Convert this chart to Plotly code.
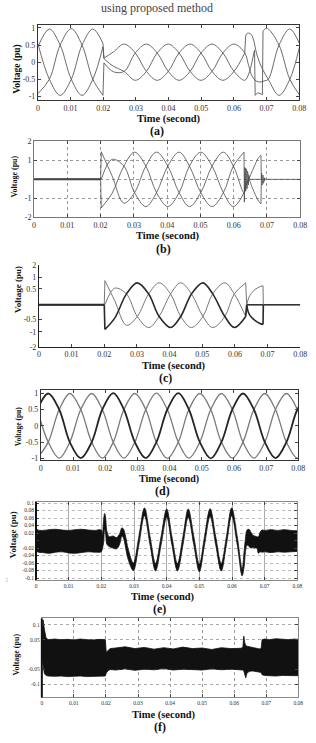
import plotly.graph_objects as go

W, H = 316, 743
SERIF = "Liberation Serif"

# ---------------- data ----------------
x_ticks = [0, 0.01, 0.02, 0.03, 0.04, 0.05, 0.06, 0.07, 0.08]
x_tick_text = ["0", "0.01", "0.02", "0.03", "0.04", "0.05", "0.06", "0.07", "0.08"]

# (a) three-phase voltage using proposed method
a_t1 = [0.0000, 0.0035, 0.0068, 0.0102, 0.0135, 0.0168, 0.0199]
a_A1 = [0.45, 0.97, 0.50, -0.50, -0.97, -0.50, 0.45]
a_B1 = [-0.92, -0.50, 0.50, 0.98, 0.50, -0.50, -0.97]
a_C1 = [0.54, -0.50, -0.97, -0.50, 0.50, 0.97, 0.55]
a_t2 = [0.0202, 0.0231, 0.0264, 0.0298, 0.0332, 0.0365, 0.0399, 0.0432, 0.0466, 0.0499, 0.0533, 0.0566, 0.0600, 0.0633]
a_A2 = [0.12, 0.30, 0.53, 0.27, -0.27, -0.53, -0.27, 0.27, 0.53, 0.27, -0.27, -0.53, -0.27, 0.27]
a_B2 = [-0.02, -0.28, -0.27, 0.27, 0.53, 0.27, -0.27, -0.53, -0.27, 0.27, 0.53, 0.27, -0.27, -0.53]
a_C2 = [0.10, -0.12, -0.27, -0.53, -0.27, 0.27, 0.53, 0.27, -0.27, -0.53, -0.27, 0.27, 0.53, 0.27]
a_tA3 = [0.0636, 0.0642, 0.0652, 0.0661, 0.0668, 0.0680, 0.0690, 0.0705, 0.0738, 0.0771, 0.0800]
a_A3 = [0.78, 0.85, 0.82, 0.62, 0.30, -0.05, -0.25, -0.50, -0.97, -0.50, 0.42]
a_tB3 = [0.0645, 0.0655, 0.0663]
a_B3 = [-0.35, 0.00, 0.35]
a_tB4 = [0.0665, 0.0672, 0.0680, 0.0687]
a_B4 = [-0.97, -0.90, -0.92, -0.95]
a_tB5 = [0.0689, 0.0696, 0.0705, 0.0738, 0.0771, 0.0800]
a_B5 = [0.90, 0.98, 0.97, 0.50, -0.50, -0.95]
a_tC3 = [0.0645, 0.0655, 0.0668, 0.0680, 0.0692, 0.0705, 0.0738, 0.0771, 0.0800]
a_C3 = [-0.10, -0.40, -0.55, -0.58, -0.55, -0.50, 0.50, 0.97, 0.55]

# (b)
b_t0 = [0.0, 0.0200]
b_v0 = [0.0, 0.0]
b_t1 = [0.0202, 0.0234, 0.0270, 0.0302, 0.0336, 0.0368, 0.0402, 0.0436, 0.0467, 0.0501, 0.0535, 0.0569, 0.0599, 0.0631]
b_R1 = [0.00, 1.05, 0.70, -0.70, -1.43, -0.70, 0.70, 1.43, 0.70, -0.70, -1.43, -0.70, 0.70, 1.43]
b_S1 = [1.45, 0.20, -1.25, -0.70, 0.70, 1.43, 0.70, -0.70, -1.43, -0.70, 0.70, 1.43, 0.70, -0.70]
b_T1 = [-1.50, -0.75, 0.70, 1.43, 0.70, -0.70, -1.43, -0.70, 0.70, 1.43, 0.70, -0.70, -1.43, -0.70]
b_tR2 = [0.0632, 0.0633, 0.0634, 0.0635, 0.0636, 0.0637, 0.0638, 0.0639, 0.0640, 0.0641,
         0.0642, 0.0643, 0.0644, 0.0645, 0.0646, 0.0647, 0.0648, 0.0650, 0.0683]
b_R2 = [-1.20, 0.62, -0.66, 0.60, -0.62, 0.56, -0.58, 0.50, -0.50, 0.42,
        -0.40, 0.32, -0.30, 0.22, -0.18, 0.12, -0.06, 0.00, 0.00]
b_tR3 = [0.0684, 0.0685, 0.0686, 0.0687, 0.0688, 0.0689, 0.0690, 0.0691, 0.0692, 0.0693, 0.0694, 0.0696, 0.0800]
b_R3 = [0.32, -0.30, 0.28, -0.26, 0.22, -0.20, 0.16, -0.12, 0.08, -0.06, 0.03, 0.00, 0.00]
b_t2 = [0.0638, 0.0646, 0.0656, 0.0666, 0.0675, 0.0682]
b_S2 = [-0.20, 0.05, 0.45, 0.85, 1.15, 1.26]
b_T2 = [-0.30, -0.05, -0.45, -0.85, -1.15, -1.29]
b_t_end = [0.0683]
b_v_end = [0.0]

# (c)
c_ticks = [2, 1.39, 0.83, -0.66, -1.27, -2]
c_tick_text = ["2", "1", "0.5", "-0.5", "-1", "-2"]
c_t0 = [0.0, 0.0200]
c_v0 = [0.05, 0.05]
c_t1 = [0.0202, 0.0232, 0.0268, 0.0301, 0.0336, 0.0368, 0.0403, 0.0434, 0.0467, 0.0502, 0.0532, 0.0569, 0.0598, 0.0633]
c_R1 = [0.05, 0.86, 0.58, -0.52, -1.06, -0.52, 0.58, 1.12, 0.58, -0.52, -1.06, -0.52, 0.58, 1.12]
c_S1 = [1.23, 0.25, -0.95, -0.52, 0.58, 1.12, 0.58, -0.52, -1.06, -0.52, 0.58, 1.12, 0.58, -0.52]
c_T1 = [-1.15, -0.60, 0.58, 1.12, 0.58, -0.52, -1.06, -0.52, 0.58, 1.12, 0.58, -0.52, -1.06, -0.52]
c_tR2 = [0.0636, 0.0800]
c_R2 = [0.05, 0.05]
c_t2 = [0.0636, 0.0642, 0.0650, 0.0662, 0.0675, 0.0686]
c_S2 = [0.05, 0.38, 0.60, 0.80, 0.92, 0.98]
c_T2 = [0.05, -0.35, -0.55, -0.72, -0.85, -0.91]
c_t_end = [0.0687]
c_v_end = [0.05]

# (d)
d_t = [-0.0011, 0.0023, 0.0057, 0.0090, 0.0124, 0.0158, 0.0191, 0.0225, 0.0258, 0.0292, 0.0326, 0.0359, 0.0393,
       0.0427, 0.0460, 0.0494, 0.0528, 0.0561, 0.0595, 0.0628, 0.0662, 0.0696, 0.0729, 0.0763, 0.0797, 0.0830]
d_U = [0.50, 0.99, 0.50, -0.50, -0.99, -0.50, 0.50, 1.00, 0.50, -0.50, -0.99, -0.50, 0.50,
       1.00, 0.50, -0.50, -1.00, -0.50, 0.50, 0.99, 0.50, -0.50, -0.99, -0.50, 0.50, 0.99]
d_V = [-0.99, -0.50, 0.50, 0.99, 0.50, -0.50, -0.99, -0.50, 0.50, 0.99, 0.50, -0.50, -1.00,
       -0.50, 0.50, 0.99, 0.50, -0.50, -0.99, -0.50, 0.50, 0.99, 0.50, -0.50, -0.99, -0.50]
d_W = [0.50, -0.50, -0.99, -0.50, 0.50, 0.99, 0.50, -0.50, -0.99, -0.50, 0.50, 1.00, 0.50,
       -0.50, -0.99, -0.50, 0.50, 0.99, 0.50, -0.50, -0.99, -0.50, 0.50, 0.99, 0.50, -0.50]

# (e) envelope of the noisy band
e_ticks = [0.1, 0.08, 0.06, 0.04, 0.02, 0, -0.02, -0.04, -0.06, -0.08, -0.1]
e_tick_text = ["0.1", "0.08", "0.06", "0.04", "0.02", "", "-0.02", "-0.04", "-0.06", "-0.08", "-0.1"]
e_t = [0.0000, 0.0004, 0.0020, 0.0040, 0.0060, 0.0080, 0.0100, 0.0120, 0.0140, 0.0160, 0.0180, 0.0200,
       0.0203, 0.0207, 0.0210, 0.0213, 0.0217, 0.0224, 0.0235, 0.0247, 0.0256, 0.0263, 0.0268, 0.0274, 0.0282,
       0.0298, 0.0315, 0.0332, 0.0349, 0.0366, 0.0383, 0.0400, 0.0416, 0.0433, 0.0450, 0.0466, 0.0483,
       0.0500, 0.0516, 0.0533, 0.0550, 0.0567, 0.0583, 0.0599, 0.0616, 0.0631,
       0.0637, 0.0641, 0.0646, 0.0652, 0.0658, 0.0664, 0.0670, 0.0676, 0.0681, 0.0686, 0.0692, 0.0700,
       0.0720, 0.0740, 0.0760, 0.0780, 0.0800]
e_hi = [0.036, 0.029, 0.027, 0.029, 0.030, 0.028, 0.027, 0.029, 0.030, 0.028, 0.027, 0.028,
        0.012, 0.055, 0.072, 0.062, 0.025, 0.010, 0.012, 0.008, 0.018, 0.034, 0.030, 0.012, -0.022,
        -0.060, 0.011, 0.087, 0.011, -0.061, 0.011, 0.084, 0.011, -0.061, 0.011, 0.084, 0.011,
        -0.063, 0.011, 0.085, 0.011, -0.061, 0.011, 0.087, 0.011, -0.075,
        -0.030, 0.004, 0.028, 0.030, 0.022, 0.014, 0.012, 0.010, 0.010, 0.022, 0.028, 0.027,
        0.029, 0.027, 0.029, 0.027, 0.026]
e_lo = [-0.015, -0.030, -0.032, -0.034, -0.031, -0.030, -0.033, -0.034, -0.032, -0.030, -0.031, -0.030,
        -0.022, -0.005, 0.030, 0.020, -0.010, -0.016, -0.020, -0.022, -0.010, 0.012, 0.006, -0.018, -0.050,
        -0.080, -0.011, 0.066, -0.011, -0.081, -0.011, 0.062, -0.011, -0.081, -0.011, 0.062, -0.011,
        -0.083, -0.011, 0.064, -0.011, -0.081, -0.011, 0.066, -0.011, -0.094,
        -0.070, -0.032, -0.012, -0.016, -0.020, -0.018, -0.020, -0.020, -0.034, -0.030, -0.031, -0.030,
        -0.032, -0.030, -0.031, -0.030, -0.029]

# (f)
f_ticks = [0.1, 0.05, -0.05, -0.1]
f_tick_text = ["0.1", "0.05", "-0.05", "-0.1"]
f_t = [0.0000, 0.0004, 0.0008, 0.0013, 0.0020, 0.0040, 0.0060, 0.0080, 0.0100, 0.0120, 0.0140, 0.0160, 0.0180, 0.0198,
       0.0201, 0.0206, 0.0213, 0.0230, 0.0260, 0.0290, 0.0320, 0.0350, 0.0380, 0.0410, 0.0440, 0.0470, 0.0500,
       0.0530, 0.0560, 0.0590, 0.0620,
       0.0627, 0.0630, 0.0633, 0.0636, 0.0640, 0.0648, 0.0658, 0.0668, 0.0678, 0.0684,
       0.0687, 0.0695, 0.0710, 0.0730, 0.0750, 0.0770, 0.0790, 0.0800]
f_hi = [0.030, 0.116, 0.085, 0.056, 0.050, 0.052, 0.050, 0.051, 0.049, 0.052, 0.050, 0.049, 0.051, 0.050,
        0.008, 0.014, 0.020, 0.022, 0.026, 0.020, 0.024, 0.018, 0.023, 0.019, 0.025, 0.020, 0.022,
        0.017, 0.023, 0.020, 0.021,
        0.024, 0.062, 0.040, 0.030, 0.028, 0.026, 0.024, 0.021, 0.019, 0.020,
        0.050, 0.052, 0.050, 0.053, 0.051, 0.050, 0.052, 0.051]
f_lo = [-0.010, -0.045, -0.064, -0.070, -0.072, -0.073, -0.072, -0.074, -0.073, -0.072, -0.074, -0.073, -0.072, -0.072,
        -0.062, -0.055, -0.050, -0.052, -0.048, -0.053, -0.049, -0.051, -0.047, -0.052, -0.049, -0.050, -0.052,
        -0.048, -0.051, -0.049, -0.052,
        -0.052, -0.055, -0.066, -0.078, -0.062, -0.056, -0.055, -0.056, -0.058, -0.060,
        -0.068, -0.070, -0.071, -0.072, -0.070, -0.071, -0.072, -0.071]

# ---------------- figure ----------------
fig = go.Figure()


def axn(n):
    return ("x" if n == 1 else f"x{n}"), ("y" if n == 1 else f"y{n}")


def add_phase(n, segs, color, width):
    xa, ya = axn(n)
    for shape in ("spline", "linear"):
        xs, ys = [], []
        for t, v, s in segs:
            if s == shape:
                xs += list(t) + [None]
                ys += list(v) + [None]
        if xs:
            line = dict(color=color, width=width, shape=shape)
            if shape == "spline":
                line["smoothing"] = 1
            fig.add_trace(go.Scatter(x=xs, y=ys, mode="lines", line=line, hoverinfo="skip",
                                     showlegend=False, xaxis=xa, yaxis=ya, connectgaps=False))
    jx, jy = [], []
    for (t1, v1, _), (t2, v2, _) in zip(segs[:-1], segs[1:]):
        jx += [t1[-1], t2[0], None]
        jy += [v1[-1], v2[0], None]
    if jx:
        fig.add_trace(go.Scatter(x=jx, y=jy, mode="lines", line=dict(color=color, width=width),
                                 hoverinfo="skip", showlegend=False, xaxis=xa, yaxis=ya))


def add_band(n, t, hi, lo, shape):
    xa, ya = axn(n)
    fig.add_trace(go.Scatter(x=t, y=lo, mode="lines", line=dict(color="#111", width=0.8, shape=shape),
                             hoverinfo="skip", showlegend=False, xaxis=xa, yaxis=ya))
    fig.add_trace(go.Scatter(x=t, y=hi, mode="lines", line=dict(color="#111", width=0.8, shape=shape),
                             fill="tonexty", fillcolor="#111", hoverinfo="skip", showlegend=False,
                             xaxis=xa, yaxis=ya))


S, L = "spline", "linear"
# (a)
ga = "#5a5a5a"
add_phase(1, [(a_t1, a_A1, S), (a_t2, a_A2, S), (a_tA3, a_A3, S)], ga, 0.9)
add_phase(1, [(a_t1, a_B1, S), (a_t2 + a_tB3, a_B2 + a_B3, S), (a_tB4, a_B4, S), (a_tB5, a_B5, S)], ga, 0.9)
add_phase(1, [(a_t1, a_C1, S), (a_t2 + a_tC3, a_C2 + a_C3, S)], ga, 0.9)

# (b)
gb = "#4a4a4a"
add_phase(2, [(b_t0, b_v0, L)], "#333", 2.0)
add_phase(2, [(b_t1, b_R1, S), (b_tR2, b_R2, L), (b_tR3, b_R3, L)], gb, 0.8)
add_phase(2, [(b_t0, b_v0, L), (b_t1 + b_t2, b_S1 + b_S2, S), (b_t_end, b_v_end, L)], gb, 0.8)
add_phase(2, [(b_t0, b_v0, L), (b_t1 + b_t2, b_T1 + b_T2, S), (b_t_end, b_v_end, L)], gb, 0.8)

# (c)
add_phase(3, [(c_t0, c_v0, L)], "#222", 1.8)
add_phase(3, [(c_t1, c_R1, S), (c_tR2, c_R2, L)], "#777", 1.0)
add_phase(3, [(c_tR2, c_R2, L)], "#333", 1.6)
add_phase(3, [(c_t0, c_v0, L), (c_t1, c_S1, S), (c_t2, c_S2, S), (c_t_end, c_v_end, L)], "#777", 1.0)
add_phase(3, [(c_t0, c_v0, L), (c_t1, c_T1, S), (c_t2, c_T2, S), (c_t_end, c_v_end, L)], "#2a2a2a", 1.6)

# (d)
add_phase(4, [(d_t, d_V, S)], "#7a7a7a", 1.3)
add_phase(4, [(d_t, d_W, S)], "#7a7a7a", 1.3)
add_phase(4, [(d_t, d_U, S)], "#262626", 1.8)

# (e), (f)
add_band(5, e_t, e_hi, e_lo, "spline")
add_band(6, f_t, f_hi, f_lo, "linear")

# ---------------- layout ----------------
boxes = {  # pixel boxes: left, right, top, bottom
    1: (37, 306, 21.7, 97.3),
    2: (33, 307, 139, 216),
    3: (38, 307, 264, 347),
    4: (40, 305, 391, 462),
    5: (35, 304, 504, 583),
    6: (41, 305, 622, 702),
}
yranges = {1: [-1.11, 1.075], 2: [-2, 2], 3: [-2, 2], 4: [-1.06, 1.09], 5: [-0.105, 0.103], 6: [-0.144, 0.121]}
yticks = {
    1: ([-1, -0.5, 0, 0.5, 1], ["-1", "-0.5", "0", "0.5", "1"]),
    2: ([-2, -1, 0, 1, 2], ["-2", "-1", "", "1", "2"]),
    3: (c_ticks, c_tick_text),
    4: ([-1, -0.5, 0, 0.5, 1], ["-1", "-0.5", "0", "0.5", "1"]),
    5: (e_ticks, e_tick_text),
    6: (f_ticks, f_tick_text),
}

layout = dict(width=W, height=H, margin=dict(l=0, r=0, t=0, b=0), paper_bgcolor="white",
              plot_bgcolor="white", showlegend=False)

for n, (l, r, t, b) in boxes.items():
    xa = "xaxis" if n == 1 else f"xaxis{n}"
    ya = "yaxis" if n == 1 else f"yaxis{n}"
    xref, yref = axn(n)
    small = n >= 5
    fs = 5.5 if small else 8
    tick_font = dict(family=SERIF, size=fs, color="#333")
    xd = dict(domain=[l / W, r / W], range=[0, 0.08], anchor=yref, tickvals=x_ticks, ticktext=x_tick_text,
              ticks="inside", ticklen=3, tickcolor="#444", tickfont=tick_font, showline=True,
              linecolor="#333", linewidth=1, mirror="ticks", showgrid=False, zeroline=False, fixedrange=True)
    yd = dict(domain=[1 - b / H, 1 - t / H], range=yranges[n], anchor=xref, tickvals=yticks[n][0],
              ticktext=yticks[n][1], ticks="inside", ticklen=3, tickcolor="#444", tickfont=tick_font,
              showline=True, linecolor="#333", linewidth=1, mirror="ticks", showgrid=False,
              zeroline=False, fixedrange=True)
    if n == 2:
        for d in (xd, yd):
            d.update(linecolor="#777", showgrid=True, gridcolor="#999", griddash="dot", gridwidth=0.8)
    if n == 3:
        xd.update(mirror=False, linecolor="#222")
        yd.update(mirror=False, linecolor="#222")
    if n == 5:
        xd.update(linecolor="#888", showgrid=True, gridcolor="#aaa", gridwidth=1)
        yd.update(linecolor="#888", showgrid=True, gridcolor="#bbb", griddash="dot", gridwidth=0.8)
    if n == 6:
        xd.update(linecolor="#888", showgrid=True, gridcolor="#999", griddash="dot", gridwidth=0.8)
        yd.update(linecolor="#888", showgrid=True, gridcolor="#aaa", griddash="dot", gridwidth=0.8)
    layout[xa] = xd
    layout[ya] = yd

fig.update_layout(**layout)

# thick left axis lines on (e) and (f)
for n in (5, 6):
    xr, yr = axn(n)
    fig.add_shape(type="line", xref=f"{xr} domain", yref=f"{yr} domain", x0=0, x1=0, y0=0, y1=1,
                  line=dict(color="#111", width=2))

ann = []


def txt(x, y, s, size, bold=True, angle=0, color="#111"):
    ann.append(dict(x=x / W, y=1 - y / H, xref="paper", yref="paper", text=f"<b>{s}</b>" if bold else s,
                    showarrow=False, textangle=angle, xanchor="center", yanchor="middle", borderpad=0,
                    font=dict(family=SERIF, size=size, color=color)))


txt(160, 4, "using proposed method", 12, bold=False, color="#444")
vlabels = [(16, 66, 9.5), (13, 175, 8), (17, 289, 9), (17, 428, 7.5), (12, 537, 9), (14, 659, 8)]
tlabels = [(172, 116, 10.5), (171, 235, 10.5), (177, 366, 10.5), (172, 481, 10), (166, 600, 10.5), (167, 720, 10.5)]
plabels = [(160, 128.5), (166, 247.5), (168, 378.5), (165, 493), (162, 612.5), (163, 732)]
letters = ["(a)", "(b)", "(c)", "(d)", "(e)", "(f)"]
for (vx, vy, vs), (tx, ty, ts), (px, py), let in zip(vlabels, tlabels, plabels, letters):
    txt(vx, vy, "Voltage (pu)", vs, angle=-90)
    txt(tx, ty, "Time (second)", ts)
    txt(px, py, let, 12)
txt(5, 582, ";", 7, bold=False, color="#666")

fig.update_layout(annotations=ann)
fig.write_html("out.html")
